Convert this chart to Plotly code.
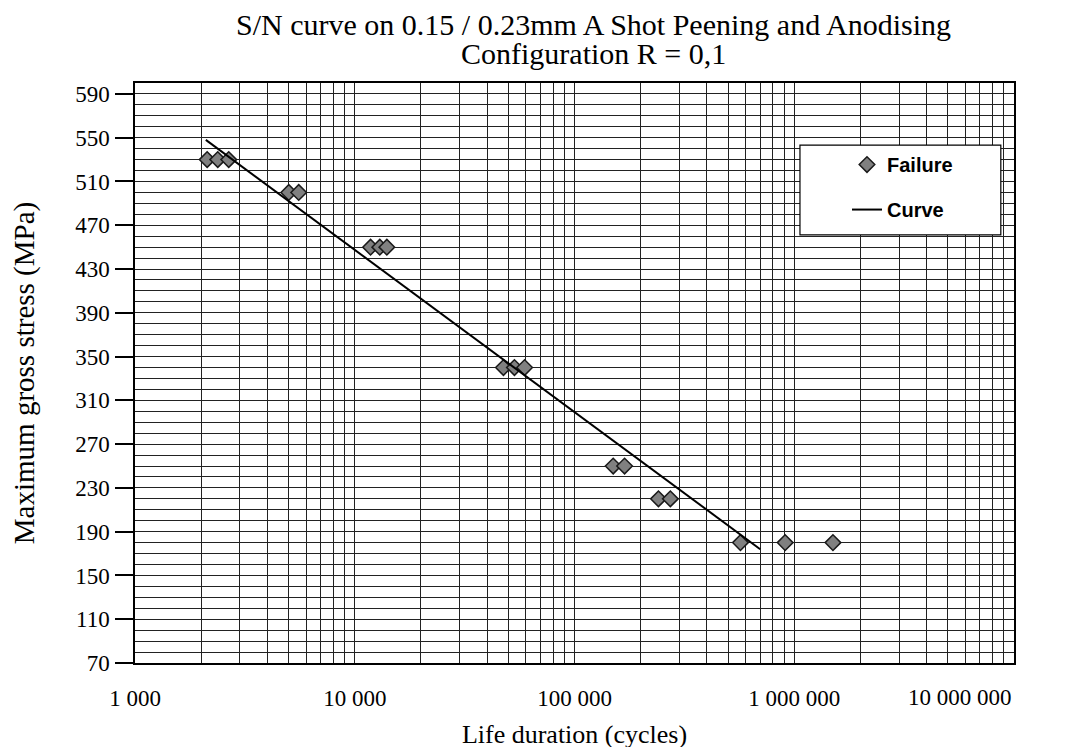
import plotly.graph_objects as go

# ---- data ----
failure_N = [2130, 2380, 2670, 5010, 5560, 11800, 13000, 14000,
             47500, 53300, 59300, 150000, 169000, 241000, 273000,
             569000, 909000, 1500000]
failure_S = [530, 530, 530, 500, 500, 450, 450, 450,
             340, 340, 340, 250, 250, 220, 220,
             180, 180, 180]

curve_N = [2100, 700000]
curve_S = [548, 174]

x_tickvals = [1000, 10000, 100000, 1000000, 10000000]
x_ticktext = ["1 000", "10 000", "100 000", "1 000 000", ""]
last_x_label = "10 000 000"
y_tickvals = list(range(70, 600, 40))

title_line1 = "S/N curve on 0.15 / 0.23mm A Shot Peening and Anodising"
title_line2 = "Configuration R = 0,1"

SERIF = "Liberation Serif, Times New Roman, serif"
SANS = "Liberation Sans, Arial, sans-serif"
GRID = "#222222"

fig = go.Figure()

fig.add_trace(go.Scatter(
    x=failure_N, y=failure_S, mode="markers", name="<b>Failure</b>",
    legendgroup="a",
    marker=dict(symbol="diamond", size=12, color="#808080",
                line=dict(color="#1a1a1a", width=1.5)),
))
fig.add_trace(go.Scatter(
    x=curve_N, y=curve_S, mode="lines", name="<b>Curve</b>",
    legendgroup="b",
    line=dict(color="black", width=2),
))

# legend frame
fig.add_shape(type="rect", xref="paper", yref="paper",
              x0=0.7565, x1=0.985, y0=0.738, y1=0.893,
              fillcolor="white", line=dict(color="black", width=1.2),
              layer="above")

fig.add_annotation(text=title_line1, xref="paper", yref="paper",
                   x=0.522, y=1, yanchor="bottom", yshift=40,
                   showarrow=False, font=dict(family=SERIF, size=30, color="black"))
fig.add_annotation(text=title_line2, xref="paper", yref="paper",
                   x=0.522, y=1, yanchor="bottom", yshift=11,
                   showarrow=False, font=dict(family=SERIF, size=30, color="black"))

# last x tick label, right-aligned to the axis end as in the reference
fig.add_annotation(text=last_x_label, xref="x", yref="paper",
                   x=7, y=0, xanchor="right", yanchor="top", yshift=-20,
                   showarrow=False, font=dict(family=SERIF, size=23, color="black"))

fig.update_layout(
    width=1067, height=747,
    margin=dict(l=127, r=61, t=75, b=92, autoexpand=False),
    paper_bgcolor="white", plot_bgcolor="white",
    font=dict(family=SERIF, color="black"),
    showlegend=True,
    legend=dict(x=0.81, y=0.893, xanchor="left", yanchor="top",
                bgcolor="rgba(0,0,0,0)", borderwidth=0,
                traceorder="grouped", tracegroupgap=16,
                font=dict(family=SANS, size=20, color="black")),
    xaxis=dict(
        type="log", range=[3, 7], automargin=False,
        tickvals=x_tickvals, ticktext=x_ticktext,
        tickfont=dict(family=SERIF, size=23, color="black"),
        ticks="", ticklabelstandoff=14,
        showgrid=True, gridcolor=GRID, gridwidth=1.3,
        minor=dict(showgrid=True, gridcolor=GRID, gridwidth=1.1, dtick="D1"),
        showline=True, linecolor="black", linewidth=1.5, mirror=True,
        zeroline=False,
        title=dict(text="Life duration (cycles)", standoff=14,
                   font=dict(family=SERIF, size=26, color="black")),
    ),
    yaxis=dict(
        range=[70, 600], automargin=False,
        tickvals=y_tickvals,
        tickfont=dict(family=SERIF, size=23, color="black"),
        ticks="outside", ticklen=18, tickcolor="black", tickwidth=1.5,
        ticklabelstandoff=1,
        showgrid=True, gridcolor=GRID, gridwidth=1.3,
        minor=dict(showgrid=True, gridcolor=GRID, gridwidth=1.1, dtick=10, tick0=70),
        showline=True, linecolor="black", linewidth=1.5, mirror=True,
        zeroline=False,
        title=dict(text="Maximum gross stress (MPa)", standoff=32,
                   font=dict(family=SERIF, size=29, color="black")),
    ),
)

fig.write_html("out.html")
